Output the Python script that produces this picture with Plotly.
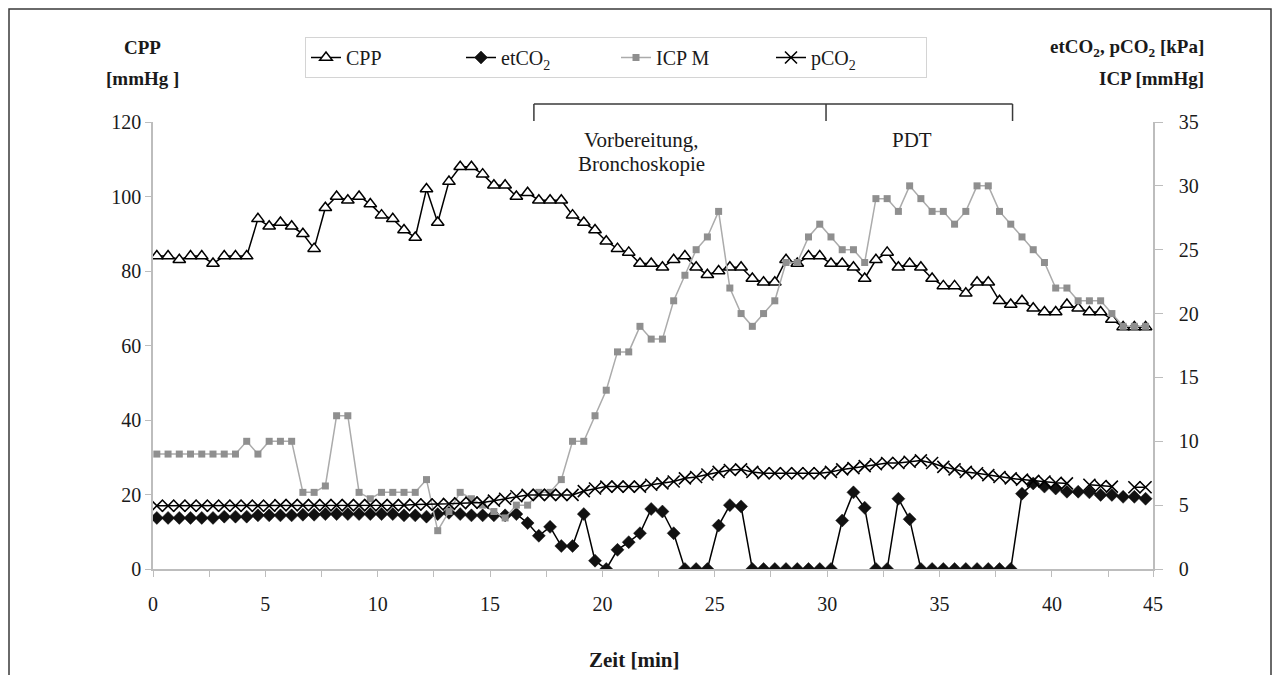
import plotly.graph_objects as go

# ---------------- data ----------------
n_points = 89
time_min = [round(0.17 + 0.5 * i, 2) for i in range(n_points)]

cpp = [84, 84, 83, 84, 84, 82, 84, 84, 84, 94, 92, 93, 92, 90, 86, 97, 100, 99, 100, 98,
       95, 94, 91, 89, 102, 93, 104, 108, 108,
       106, 103, 103, 100, 101, 99, 99, 99, 95, 93, 91, 88, 86, 85,
       82, 82, 81, 83, 84, 81, 79, 80, 81, 81, 78, 77, 77,
       83, 82, 84, 84, 82, 82, 81, 78, 83, 85,
       81, 82, 81, 78, 76, 76, 74, 77, 77, 72, 71, 72, 70, 69, 69, 71, 70, 69, 69, 67, 65, 65, 65]

etco2 = [4.0, 4.0, 4.0, 4.0, 4.0, 4.0, 4.1, 4.1, 4.1, 4.2, 4.2, 4.2, 4.2, 4.25, 4.25,
         4.3, 4.3, 4.3, 4.3, 4.3, 4.3, 4.3, 4.2, 4.2, 4.1, 4.3, 4.4, 4.3, 4.2, 4.2,
         4.2, 4.2, 4.3, 3.6, 2.6, 3.3, 1.8, 1.8, 4.3, 0.65, 0.0, 1.5, 2.1, 2.8, 4.7,
         4.5, 2.8, 0.0, 0.0, 0.0, 3.4, 5.0, 4.9, 0.0, 0.0, 0.0, 0.0, 0.0, 0.0, 0.0,
         0.0, 3.8, 6.0, 4.8, 0.0, 0.0, 5.5, 3.9, 0.0, 0.0, 0.0, 0.0, 0.0, 0.0, 0.0,
         0.0, 0.0, 5.9, 6.7, 6.45, 6.3, 6.05, 6.05, 6.0, 5.8, 5.8, 5.65, 5.65, 5.5]

icp = [9, 9, 9, 9, 9, 9, 9, 9, 10, 9, 10, 10, 10, 6, 6, 6.5, 12, 12, 6, 5.5,
       6, 6, 6, 6, 7, 3, 4.5, 6, 5.5, 5, 4.5, 4, 5, 5, 6, 6, 7, 10, 10, 12,
       14, 17, 17, 19, 18, 18, 21, 23, 25, 26, 28, 22, 20, 19, 20, 21, 24, 24, 26, 27,
       26, 25, 25, 24, 29, 29, 28, 30, 29, 28, 28, 27, 28, 30, 30, 28, 27, 26, 25, 24,
       22, 22, 21, 21, 21, 20, 19, 19, 19]

pco2 = [4.95, 4.95, 4.95, 4.95, 4.95, 4.95, 4.95, 4.95, 4.95, 4.95, 4.95, 5.0, 5.0, 5.0, 5.0,
        5.0, 5.0, 5.0, 5.0, 5.0, 5.0, 5.0, 5.0, 5.05, 5.05, 5.05, 5.1, 5.15, 5.2, 5.2,
        5.35, 5.5, 5.7, 5.8, 5.8, 5.8, 5.8, 5.8, 6.1, 6.3, 6.45, 6.45, 6.45, 6.45, 6.6,
        6.7, 6.85, 7.1, 7.2, 7.4, 7.6, 7.75, 7.8, 7.6, 7.5, 7.5, 7.5, 7.5, 7.5, 7.5,
        7.6, 7.8, 7.9, 8.05, 8.2, 8.3, 8.3, 8.4, 8.5, 8.3, 8.0, 7.8, 7.6, 7.5, 7.35,
        7.2, 7.1, 7.0, 6.9, 6.85, 6.75, 6.7, None, 6.6, 6.5, 6.45, None, 6.4, 6.4]

x_tick_vals = [0, 2.5, 5, 7.5, 10, 12.5, 15, 17.5, 20, 22.5, 25, 27.5, 30, 32.5, 35,
               37.5, 40, 42.5, 44.5]
x_tick_text = ["0", "", "5", "", "10", "", "15", "", "20", "", "25", "", "30", "", "35",
               "", "40", "", "45"]
left_ticks = [0, 20, 40, 60, 80, 100, 120]
right_ticks = [0, 5, 10, 15, 20, 25, 30, 35]

phase_bounds = [16.95, 29.95, 38.25]

# ---------------- styling ----------------
FONT = "Liberation Serif, Times New Roman, serif"
TXT = "#1a1a1a"
AX = "#bdbdbd"
FRAME = "#3a3a3a"
ICP_LINE = "#ababab"
ICP_MARK = "#8f8f8f"

fig = go.Figure()

fig.add_trace(go.Scatter(
    x=time_min, y=cpp, name="CPP", mode="lines+markers",
    line=dict(color="black", width=1.5),
    marker=dict(symbol="triangle-up", size=11, color="white",
                line=dict(color="black", width=1.5)),
    yaxis="y"))

fig.add_trace(go.Scatter(
    x=time_min, y=etco2, name="etCO<sub>2</sub>", mode="lines+markers",
    line=dict(color="black", width=1.5),
    marker=dict(symbol="diamond", size=10, color="#111111",
                line=dict(color="#111111", width=0.5)),
    yaxis="y2"))

fig.add_trace(go.Scatter(
    x=time_min, y=icp, name="ICP M", mode="lines+markers",
    line=dict(color=ICP_LINE, width=1.5),
    marker=dict(symbol="square", size=7, color=ICP_MARK),
    yaxis="y2"))

fig.add_trace(go.Scatter(
    x=time_min, y=pco2, name="pCO<sub>2</sub>", mode="lines+markers",
    connectgaps=False,
    line=dict(color="black", width=1.5),
    marker=dict(symbol="x-thin", size=12, color="black",
                line=dict(color="black", width=1.6)),
    yaxis="y2"))

# page body has an 8px margin: figure is sized to fit, screen px = figure px + 8
OFF = 8
W, H = 1280 - 2 * OFF, 683 - 2 * OFF
L, T = 153 - OFF, 122 - OFF
pw, ph = 1000, 447
R, B = W - L - pw, H - T - ph


def px_x(sx):
    return (sx - OFF - L) / pw


def px_y(sy):
    return (T + ph - (sy - OFF)) / ph


shapes = []
# outer frame
shapes.append(dict(type="rect", xref="paper", yref="paper",
                   x0=px_x(OFF + 1), x1=px_x(1280 - OFF - 1), y0=px_y(720), y1=px_y(OFF + 1),
                   line=dict(color=FRAME, width=1.5), layer="below"))
# phase bracket
yb_top = px_y(104)
yb_bot = px_y(121)
shapes.append(dict(type="line", xref="x", yref="paper",
                   x0=phase_bounds[0], x1=phase_bounds[-1], y0=yb_top, y1=yb_top,
                   line=dict(color=FRAME, width=1.5)))
for b in phase_bounds:
    shapes.append(dict(type="line", xref="x", yref="paper",
                       x0=b, x1=b, y0=yb_top, y1=yb_bot,
                       line=dict(color=FRAME, width=1.5)))


def label(text, sx, sy, size=18, xanchor="center"):
    return dict(text=text, xref="paper", yref="paper", x=px_x(sx), y=px_y(sy),
                xanchor=xanchor, yanchor="middle", showarrow=False,
                font=dict(family=FONT, size=size, color=TXT))


ann = [
    label("Vorbereitung,", 641, 140, 21),
    label("Bronchoskopie", 641, 164, 21),
    label("PDT", 912, 140, 21),
    label("<b>CPP</b>", 142, 48, 19),
    label("<b>[mmHg ]</b>", 142, 78, 19),
    label("<b>etCO<sub>2</sub>, pCO<sub>2</sub> [kPa]</b>", 1206, 48, 19, xanchor="right"),
    label("<b>ICP [mmHg]</b>", 1206, 78, 19, xanchor="right"),
    label("<b>Zeit [min]</b>", 634, 660, 21),
]

tickfont = dict(family=FONT, size=20, color=TXT)

fig.update_layout(
    width=W, height=H,
    margin=dict(l=L, r=R, t=T, b=B),
    paper_bgcolor="white", plot_bgcolor="white",
    font=dict(family=FONT, color=TXT),
    showlegend=True,
    legend=dict(orientation="h", x=px_x(305), y=px_y(37), xanchor="left", yanchor="top",
                bordercolor="#d4d4d4", borderwidth=1, bgcolor="white",
                entrywidth=110, font=dict(family=FONT, size=20, color=TXT),
                tracegroupgap=0),
    xaxis=dict(range=[0, 44.5], tickmode="array", tickvals=x_tick_vals, ticktext=x_tick_text,
               showgrid=False, zeroline=False, showline=True, linecolor=AX, linewidth=1.5,
               ticks="outside", ticklen=6, tickcolor=AX, tickwidth=1,
               tickfont=tickfont, ticklabelstandoff=10),
    yaxis=dict(range=[0, 120], tickmode="array", tickvals=left_ticks,
               showgrid=False, zeroline=False, showline=True, linecolor=AX, linewidth=1.5,
               ticks="outside", ticklen=6, tickcolor=AX, tickwidth=1,
               tickfont=tickfont, ticklabelstandoff=0),
    yaxis2=dict(range=[0, 35], tickmode="array", tickvals=right_ticks,
                overlaying="y", side="right", anchor="x",
                showgrid=False, zeroline=False, showline=True, linecolor=AX, linewidth=1.5,
                ticks="outside", ticklen=8, tickcolor=AX, tickwidth=1,
                tickfont=tickfont, ticklabelstandoff=12),
    yaxis3=dict(range=[0, 35], tickmode="array", tickvals=right_ticks,
                overlaying="y", side="right", anchor="x",
                showgrid=False, zeroline=False, showline=False,
                ticks="inside", ticklen=8, tickcolor=AX, tickwidth=1,
                showticklabels=False),
    shapes=shapes,
    annotations=ann,
)

fig.write_html("out.html")
